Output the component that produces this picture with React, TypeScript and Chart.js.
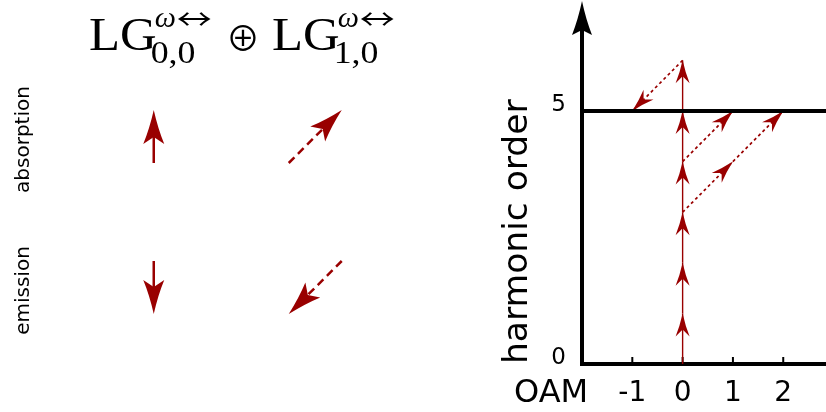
import { useEffect, useRef } from 'react';
import { Chart, registerables } from 'chart.js';

Chart.register(...registerables);

// ---- left panel: what a single photon of each driving mode does ----
const modeIndices = ['0,0', '1,0'];            // LG_{p,l} indices of the two modes
const processLabels = ['absorption', 'emission'];
// change of (OAM, harmonic order) carried by one photon, one entry per mode
const absorptionOam = [0, 1];
const absorptionOrder = [1, 1];
const emissionOam = [0, -1];
const emissionOrder = [-1, -1];

// ---- right panel: OAM vs harmonic order ----
const oamTicks = [-1, 0, 1, 2];
const orderTicks = [0, 5];
const cutoffOrder = 5;
// LG_{0,0} photons absorbed one after the other (OAM stays 0)
const ladderOam = [0, 0, 0, 0, 0, 0];
const ladderFrom = [0, 1, 2, 3, 4, 5];
const ladderTo = [1, 2, 3, 4, 5, 6];
// LG_{1,0} photon steps, start and end of each step
const mixedFromOam = [0, 1, 0, 0];
const mixedFromOrder = [3, 4, 4, 6];
const mixedToOam = [1, 2, 1, -1];
const mixedToOrder = [4, 5, 5, 5];

const OAM_MIN = -2;
const OAM_MAX = 2.85;
const ORDER_MAX = 6.6;

const RED = '#990000';
const SANS = '"DejaVu Sans", sans-serif';
const SERIF = '"Liberation Serif", serif';
const THIN = '"Noto Sans CJK JP", "DejaVu Sans", sans-serif';

function drawHead(
  ctx: CanvasRenderingContext2D,
  fromX: number, fromY: number, tipX: number, tipY: number,
  len: number, half: number, notch: number, color: string,
) {
  const ang = Math.atan2(tipY - fromY, tipX - fromX);
  ctx.save();
  ctx.translate(tipX, tipY);
  ctx.rotate(ang);
  ctx.beginPath();
  ctx.moveTo(0, 0);
  ctx.quadraticCurveTo(-len * 0.55, -half * 0.4, -len, -half);
  ctx.lineTo(-notch, 0);
  ctx.lineTo(-len, half);
  ctx.quadraticCurveTo(-len * 0.55, half * 0.4, 0, 0);
  ctx.closePath();
  ctx.fillStyle = color;
  ctx.fill();
  ctx.restore();
}

// wide-set text, stretched horizontally to read like TeX's Computer Modern
function stretchedText(ctx: CanvasRenderingContext2D, text: string, x: number, y: number, sx: number) {
  ctx.save();
  ctx.translate(x, y);
  ctx.scale(sx, 1);
  ctx.fillText(text, 0, 0);
  const w = ctx.measureText(text).width * sx;
  ctx.restore();
  return w;
}

function drawTitle(ctx: CanvasRenderingContext2D) {
  const groupX = [89, 272];
  ctx.fillStyle = '#000';
  ctx.textAlign = 'left';
  ctx.textBaseline = 'alphabetic';
  modeIndices.forEach((idx, i) => {
    ctx.font = `47px ${SERIF}`;
    const w = stretchedText(ctx, 'LG', groupX[i], 50, 1.08);
    const sx = groupX[i] + w;
    ctx.font = `italic 30px ${SERIF}`;
    ctx.fillText('ω', sx - 2, 27);
    const wo = ctx.measureText('ω').width;
    ctx.font = `28px ${THIN}`;
    const wa = ctx.measureText('↔').width;
    stretchedText(ctx, '↔', sx - 2 + wo + 1, 30, 35 / wa);
    ctx.font = `32px ${SERIF}`;
    stretchedText(ctx, idx, sx - 6, 63, 1.12);
  });
  ctx.font = `34px ${THIN}`;
  ctx.textAlign = 'center';
  ctx.textBaseline = 'middle';
  ctx.fillText('⊕', 243, 38);
}

const legendPlugin = {
  id: 'photonLegend',
  afterDraw(chart: any) {
    const { ctx } = chart;
    const xs = chart.scales.x;
    const ys = chart.scales.y;
    const unit = 53; // pixels per photon step
    ctx.save();
    drawTitle(ctx);

    ctx.font = `20px ${SANS}`;
    ctx.fillStyle = '#000';
    ctx.textAlign = 'center';
    ctx.textBaseline = 'alphabetic';
    processLabels.forEach((lab, r) => {
      ctx.save();
      ctx.translate(29, ys.getPixelForValue(r) + 3);
      ctx.rotate(-Math.PI / 2);
      ctx.fillText(lab, 0, 0);
      ctx.restore();
    });

    processLabels.forEach((_, r) => {
      const dOam = r === 0 ? absorptionOam : emissionOam;
      const dOrder = r === 0 ? absorptionOrder : emissionOrder;
      modeIndices.forEach((__, c) => {
        const cx = xs.getPixelForValue(c);
        const cy = ys.getPixelForValue(r);
        const vx = dOam[c] * unit;
        const vy = -dOrder[c] * unit;
        const sx = cx - vx / 2, sy = cy - vy / 2;
        const tx = cx + vx / 2, ty = cy + vy / 2;
        const L = Math.hypot(vx, vy);
        const notch = 27;
        const nx = tx - (vx / L) * notch, ny = ty - (vy / L) * notch;
        ctx.save();
        ctx.strokeStyle = RED;
        ctx.lineWidth = 2.5;
        ctx.setLineDash(c === 0 ? [] : [8, 5]);
        ctx.beginPath();
        ctx.moveTo(sx, sy);
        ctx.lineTo(nx, ny);
        ctx.stroke();
        ctx.restore();
        drawHead(ctx, sx, sy, tx, ty, 34, 10.5, 27, RED);
      });
    });
    ctx.restore();
  },
};

const ladderPlugin = {
  id: 'ladderDecor',
  beforeDatasetsDraw(chart: any) {
    const { ctx, chartArea, scales } = chart;
    ctx.save();
    ctx.strokeStyle = '#000';
    ctx.lineWidth = 2;
    oamTicks.forEach((v) => {
      const x = scales.x.getPixelForValue(v);
      ctx.beginPath();
      ctx.moveTo(x, chartArea.bottom - 7);
      ctx.lineTo(x, chartArea.bottom);
      ctx.stroke();
    });
    ctx.restore();
  },
  afterDatasetDraw(chart: any, args: any) {
    const ds = chart.data.datasets[args.index];
    if (!ds.head) return;
    const pts = args.meta.data;
    const a = pts[0];
    const b = pts[pts.length - 1];
    drawHead(chart.ctx, a.x, a.y, b.x, b.y, 23, 7, 16, RED);
  },
  afterDraw(chart: any) {
    const { ctx, chartArea, scales } = chart;
    const ax = scales.y.right;
    drawHead(ctx, ax, chartArea.top + 5, ax, chartArea.top - 29, 34, 10, 29, '#000');
    ctx.save();
    ctx.font = `32px ${SANS}`;
    ctx.fillStyle = '#000';
    ctx.textAlign = 'left';
    ctx.textBaseline = 'alphabetic';
    ctx.fillText('OAM', 24, 402);
    ctx.restore();
  },
};

export default function App() {
  const leftRef = useRef<HTMLCanvasElement>(null);
  const rightRef = useRef<HTMLCanvasElement>(null);

  useEffect(() => {
    document.body.style.margin = '0';

    const left = new Chart(leftRef.current!, {
      type: 'scatter',
      data: { datasets: [] },
      options: {
        animation: false,
        responsive: false,
        events: [],
        layout: { padding: { left: 73, right: 94, top: 61, bottom: 49 } },
        scales: {
          x: { type: 'category', labels: modeIndices, offset: true, display: false },
          y: { type: 'category', labels: processLabels, offset: true, display: false },
        },
        plugins: { legend: { display: false }, tooltip: { enabled: false } },
      },
      plugins: [legendPlugin],
    } as any);

    const datasets: any[] = [
      {
        label: 'cutoff',
        data: [{ x: OAM_MIN, y: cutoffOrder }, { x: OAM_MAX, y: cutoffOrder }],
        borderColor: '#000',
        borderWidth: 4,
        showLine: true,
        pointRadius: 0,
        head: false,
      },
    ];
    ladderOam.forEach((oam, i) => {
      datasets.push({
        data: [{ x: oam, y: ladderFrom[i] }, { x: oam, y: ladderTo[i] }],
        borderColor: RED,
        borderWidth: 1.4,
        showLine: true,
        pointRadius: 0,
        head: true,
      });
    });
    mixedFromOam.forEach((oam, i) => {
      datasets.push({
        data: [{ x: oam, y: mixedFromOrder[i] }, { x: mixedToOam[i], y: mixedToOrder[i] }],
        borderColor: RED,
        borderWidth: 1.7,
        borderDash: [3, 3],
        showLine: true,
        pointRadius: 0,
        head: true,
      });
    });

    const right = new Chart(rightRef.current!, {
      type: 'scatter',
      data: { datasets },
      options: {
        animation: false,
        responsive: false,
        events: [],
        layout: { padding: { left: 0, right: 0, top: 30, bottom: 0 } },
        scales: {
          x: {
            type: 'linear',
            min: OAM_MIN,
            max: OAM_MAX,
            afterBuildTicks: (s: any) => { s.ticks = oamTicks.map((v) => ({ value: v })); },
            afterFit: (s: any) => { s.height = 48; },
            grid: { display: false, drawTicks: false },
            border: { display: true, color: '#000', width: 4 },
            ticks: {
              color: '#000',
              font: { family: SANS, size: 28 },
              padding: 12.5,
              maxRotation: 0,
              autoSkip: false,
            },
          },
          y: {
            type: 'linear',
            min: 0,
            max: ORDER_MAX,
            afterBuildTicks: (s: any) => { s.ticks = orderTicks.map((v) => ({ value: v })); },
            afterFit: (s: any) => { s.width = 92; },
            grid: { display: false, drawTicks: false },
            border: { display: true, color: '#000', width: 4 },
            ticks: {
              color: '#000',
              font: { family: SANS, size: 23 },
              padding: 16,
              labelOffset: -6,
              autoSkip: false,
            },
            title: {
              display: true,
              text: 'harmonic order',
              color: '#000',
              font: { family: SANS, size: 34.5 },
              align: 'start',
              padding: { top: 7.6, bottom: 0 },
            },
          },
        },
        plugins: { legend: { display: false }, tooltip: { enabled: false } },
      },
      plugins: [ladderPlugin],
    } as any);

    return () => {
      left.destroy();
      right.destroy();
    };
  }, []);

  return (
    <div style={{ position: 'relative', width: 826, height: 412, background: '#fff' }}>
      <canvas ref={leftRef} width={490} height={412} style={{ position: 'absolute', left: 0, top: 0 }} />
      <canvas ref={rightRef} width={336} height={412} style={{ position: 'absolute', left: 490, top: 0 }} />
    </div>
  );
}
